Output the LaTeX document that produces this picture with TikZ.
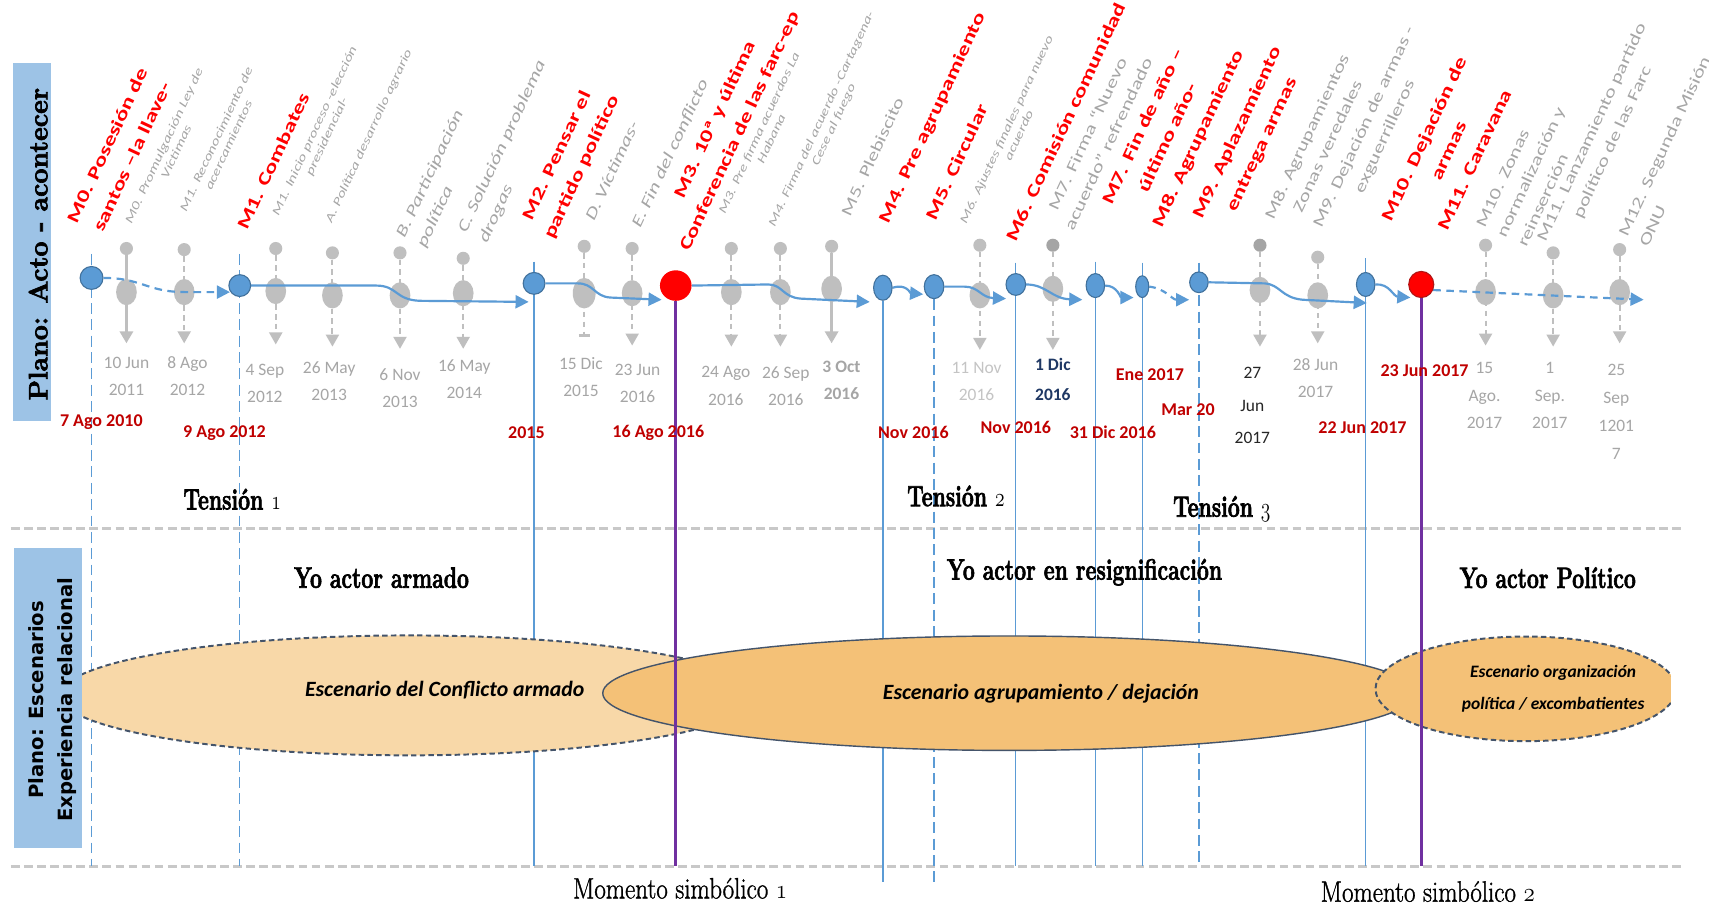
\documentclass[tikz,border=0pt]{standalone}
\usepackage{fontspec}
\usepackage{graphicx}
\usetikzlibrary{shapes.geometric,arrows.meta}
\newfontfamily\carl{Carlito}
\newfontfamily\djv{DejaVu Sans}
\newfontfamily\hvserif[FakeBold=2.5]{Latin Modern Roman}
\newfontfamily\mdserif[FakeBold=1.2]{Latin Modern Roman}
\definecolor{blueF}{HTML}{5B9BD5}
\definecolor{blueB}{HTML}{41719C}
\definecolor{blueL}{HTML}{5B9BD5}
\definecolor{redB}{HTML}{B01515}
\definecolor{purp}{HTML}{7030A0}
\definecolor{greyD}{HTML}{BFBFBF}
\definecolor{greyK}{HTML}{A5A5A5}
\definecolor{greyT}{HTML}{A6A6A6}
\definecolor{greyL}{HTML}{C4C4C4}
\definecolor{dred}{HTML}{C00000}
\definecolor{navy}{HTML}{1F3864}
\definecolor{boxblue}{HTML}{9DC3E6}
\definecolor{peach}{HTML}{F8D8A8}
\definecolor{amber}{HTML}{F4C177}
\definecolor{slate}{HTML}{44546A}
\definecolor{rule}{HTML}{C8C8C8}
\pgfdeclarelayer{back}
\pgfdeclarelayer{ell}
\pgfdeclarelayer{grey}
\pgfdeclarelayer{conn}
\pgfsetlayers{back,ell,grey,conn,main}
% rotated label: stretched tabular
\newcommand{\rlab}[2]{\scalebox{1.4}[1]{\begin{tabular}{@{}#1@{}}#2\end{tabular}}}
% old-style figures
\newcommand{\osfb}[1]{{\usefont{OML}{lmm}{b}{it}\fontsize{31}{30}\selectfont#1}}
\newcommand{\osfm}[1]{{\usefont{OML}{lmm}{m}{it}\fontsize{30}{30}\selectfont#1}}
\newcommand{\narrow}[2]{\scalebox{#1}[1]{#2}}
% grey event: name, x, y of small dot, y of large dot, y of tip, stem style, dot style
\newcommand{\gev}[7]{%
  \node[gbig] (#1b) at (#2,#4) {};
  \node[gdot,#7] (#1d) at (#2,#3) {};
  \coordinate (#1t) at (#2,#5);
  \draw[#6] (#1d) -- (#1t);
}
\begin{document}
\begin{tikzpicture}[x=1pt,y=-1pt,
  bnode/.style={ellipse, draw=blueB, fill=blueF, line width=1pt, inner sep=0pt},
  rnode/.style={ellipse, draw=redB, fill=red, line width=1pt, inner sep=0pt},
  gdot/.style={circle, fill=greyD, inner sep=0pt, minimum size=12pt},
  gbig/.style={ellipse, fill=greyD, inner sep=0pt, minimum width=19pt, minimum height=24pt},
  conn/.style={draw=blueL, line width=2pt, -{Triangle[length=12pt,width=12pt]}},
  vline/.style={draw=blueL, line width=1.2pt},
  vdash/.style={vline, dash pattern=on 10pt off 5pt},
  pline/.style={draw=purp, line width=3pt},
  gdash/.style={draw=greyD, line width=1.8pt, dash pattern=on 5pt off 4pt, -{Triangle[length=11pt,width=12pt]}},
  gsolid/.style={draw=greyD, line width=3pt, -{Triangle[length=11pt,width=12pt]}},
  redlab/.style={rotate=65, inner sep=0pt, text=red, font=\carl\bfseries\fontsize{16}{25}\selectfont},
  glab/.style={rotate=65, inner sep=0pt, text=greyT, font=\carl\itshape\fontsize{10.8}{12.5}\selectfont},
  glabL/.style={rotate=65, inner sep=0pt, text=greyT, font=\carl\fontsize{14.5}{21}\selectfont},
  glabLi/.style={glabL, font=\carl\itshape\fontsize{14.5}{21}\selectfont},
  gdate/.style={text=greyT, align=center, inner sep=0pt, font=\carl\fontsize{16}{25}\selectfont},
  rdate/.style={text=dred, inner sep=0pt, font=\carl\bfseries\fontsize{16.5}{20}\selectfont},
  serif/.style={inner sep=0pt, font=\hvserif\bfseries\fontsize{27}{30}\selectfont},
  serifm/.style={inner sep=0pt, font=\mdserif\fontsize{27}{30}\selectfont},
  scen/.style={inner sep=0pt, font=\carl\bfseries\itshape\fontsize{20}{24}\selectfont},
  hrule/.style={draw=rule, line width=2.2pt, dash pattern=on 8pt off 4pt}
]
\useasboundingbox (0,0) rectangle (1568,832);

% ---------- timeline nodes ----------
\node[bnode, minimum width=21pt, minimum height=21pt] (n0) at (84,255) {};
\node[bnode, minimum width=20pt, minimum height=20pt] (n1) at (220,262) {};
\node[bnode, minimum width=20pt, minimum height=20pt] (n2) at (490,260) {};
\node[rnode, draw=none, minimum width=29pt, minimum height=28pt] (n3) at (620,262) {};
\node[bnode, minimum width=17pt, minimum height=23pt] (n4) at (810,264) {};
\node[bnode, minimum width=18pt, minimum height=22pt] (n5) at (857,263) {};
\node[bnode, minimum width=18pt, minimum height=20pt] (n6) at (932,261) {};
\node[bnode, minimum width=17pt, minimum height=22pt] (n7) at (1005,262) {};
\node[bnode, minimum width=12pt, minimum height=20pt] (n8) at (1048,263) {};
\node[bnode, minimum width=17pt, minimum height=19pt] (n9) at (1100,259) {};
\node[bnode, minimum width=17pt, minimum height=22pt] (n10) at (1253,261) {};
\node[rnode, minimum width=23pt, minimum height=24pt] (n11) at (1304,261) {};

\coordinate (yb) at (0,795);
\coordinate (yc) at (0,809);
\coordinate (t1) at (211,268);
\coordinate (t2) at (485,277);
\coordinate (t3) at (607,275);
\coordinate (t4) at (798,277);
\coordinate (t5) at (847,270);
\coordinate (t6) at (923,274);
\coordinate (t7) at (993,275);
\coordinate (t8) at (1040,273);
\coordinate (t9) at (1091,275);
\coordinate (t10) at (1254,278);
\coordinate (t11) at (1294,273);
\coordinate (t12) at (1508,275);

% ---------- rules and vertical guides ----------
\begin{pgfonlayer}{back}
  \fill[white] (0,0) rectangle (1568,832);
  \coordinate (ha) at (10,485); \coordinate (hb) at (1545,485);
  \coordinate (hc) at (10,795); \coordinate (hd) at (1545,795);
  \draw[hrule] (ha) -- (hb);
  \draw[hrule] (hc) -- (hd);
  \draw[vdash] (n0) ++(0,-22) -- (n0 |- yb);
  \draw[vdash] (n1) ++(0,-29) -- (n1 |- yb);
  \draw[vline] (n2) ++(0,-20) -- (n2 |- yb);
  \draw[vline] (n4) -- (n4 |- yc);
  \draw[vdash] (n5) -- (n5 |- yc);
  \draw[vline] (n6) ++(0,-20) -- (n6 |- yb);
  \draw[vline] (n7) ++(0,-22) -- (n7 |- yb);
  \draw[vline] (n8) ++(0,-22) -- (n8 |- yb);
  \draw[vdash] (n9) ++(0,-18) -- (n9 |- yb);
  \draw[vline] (n10) ++(0,-24) -- (n10 |- yb);
\end{pgfonlayer}

% ---------- scenario ellipses ----------
\begin{pgfonlayer}{ell}
  \draw[fill=peach, draw=slate, line width=1.8pt, dash pattern=on 5pt off 3pt] (375,638) ellipse [x radius=320pt, y radius=55pt];
  \draw[fill=amber, draw=slate, line width=1.3pt] (926,636) ellipse [x radius=373pt, y radius=52.5pt];
  \begin{scope}
    \clip (1200,560) rectangle (1533,700);
    \draw[fill=amber, draw=slate, line width=1.8pt, dash pattern=on 5pt off 3pt] (1400,632) ellipse [x radius=138pt, y radius=48pt];
  \end{scope}
\end{pgfonlayer}

% ---------- grey events and symbolic moments ----------
\begin{pgfonlayer}{grey}
  \draw[pline] (n3) -- (n3 |- yb);
  \draw[pline] (n11) -- (n11 |- yb);
  \gev{ga}{116}{228}{268}{315}{gsolid}{}
  \gev{gb}{169}{229}{268}{315}{gdash}{}
  \gev{gc}{253}{228}{267}{316}{gdash}{}
  \gev{gd}{305}{232}{271}{318}{gdash}{}
  \gev{ge}{367}{232}{271}{320}{gdash}{}
  \gev{gf}{425}{237}{269}{320}{gdash}{}
  \node[gbig, minimum width=21pt, minimum height=28pt] (ggb) at (536,269) {};
  \node[gdot] (ggd) at (536,226) {};
  \coordinate (ggt) at (536,308);
  \draw[gdash,-] (ggd) -- (ggt);
  \draw[greyD, line width=3pt] (ggt) ++(-5,0) -- ++(10,0);
  \gev{gh}{580}{228}{269}{317}{gdash}{}
  \gev{gi}{671}{228}{268}{318}{gdash}{}
  \gev{gj}{716}{228}{268}{318}{gdash}{}
  \gev{gk}{763}{226}{265}{315}{gsolid}{}
  \gev{gl}{899}{225}{271}{321}{gdash}{}
  \gev{gm}{966}{225}{265}{321}{gdash}{fill=greyK}
  \gev{gn}{1156}{225}{266}{318}{gdash}{fill=greyK}
  \gev{go}{1209}{236}{271}{315}{gdash}{}
  \gev{gp}{1363}{225}{268}{317}{gdash}{}
  \gev{gq}{1425}{232}{271}{318}{gdash}{}
  \gev{gr}{1486}{229}{268}{315}{gdash}{}
\end{pgfonlayer}

% ---------- timeline connectors ----------
\begin{pgfonlayer}{conn}
  \draw[conn, dash pattern=on 7pt off 5pt] (n0.east) .. controls (130,255) and (135,268) .. (170,268) -- (t1);
  \draw[conn] (n1.east) -- (345,262) .. controls (365,262) and (362,275) .. (385,276) -- (t2);
  \draw[conn] (n2.east) -- (530,260) .. controls (545,260) and (545,272) .. (560,273) -- (t3);
  \draw[conn] (n3.east) -- (705,261) .. controls (718,261) and (718,273) .. (735,274) -- (t4);
  \draw[conn] (n4.east) .. controls (832,260) and (835,269) .. (t5);
  \draw[conn] (n5.east) -- (885,263) .. controls (898,263) and (900,273) .. (t6);
  \draw[conn] (n6.east) .. controls (960,261) and (965,274) .. (t7);
  \draw[conn] (n7.east) .. controls (1025,262) and (1028,273) .. (t8);
  \draw[conn, dash pattern=on 6pt off 5pt] (n8.east) .. controls (1070,265) and (1075,275) .. (t9);
  \draw[conn] (n9.east) -- (1160,260) .. controls (1175,261) and (1175,273) .. (1195,275) -- (t10);
  \draw[conn] (n10.east) .. controls (1275,260) and (1278,272) .. (t11);
  \draw[conn, dash pattern=on 7pt off 5pt] (n11.-25) -- (t12);
\end{pgfonlayer}

% ---------- side panels ----------
\node[fill=boxblue, minimum width=35pt, minimum height=328pt, inner sep=0pt] (bx1) at (29.5,222) {};
\node[rotate=90, inner sep=0pt, font=\hvserif\bfseries\fontsize{24.5}{28}\selectfont] (bx1t) at (35,224) {Plano: Acto - acontecer};
\node[fill=boxblue, minimum width=62pt, minimum height=275pt, inner sep=0pt] (bx2) at (44,640.5) {};
\node[rotate=90, inner sep=0pt, align=center, font=\djv\bfseries\fontsize{18}{27}\selectfont] (bx2t) at (48.5,642) {Plano: Escenarios\\Experiencia relacional};

% ---------- milestone labels ----------
\node[redlab] (lm0) at (110,139) {\rlab{c}{M0. Posesión de\\santos –la llave-}};
\node[redlab] (lm1) at (251,148) {\rlab{c}{M1. Combates}};
\node[redlab] (lm2) at (522,148) {\rlab{c}{M2. Pensar el\\partido político}};
\node[redlab] (lm3) at (667,115) {\rlab{c}{M3. 10ª y última\\Conferencia de las farc-ep}};
\node[redlab] (lm4) at (855,108) {\rlab{c}{M4. Pre agrupamiento}};
\node[redlab] (lm5) at (878,149) {\rlab{c}{M5. Circular}};
\node[redlab] (lm6) at (978,112) {\rlab{c}{M6. Comisión comunidad}};
\node[redlab] (lm7) at (1060,121) {\rlab{c}{M7. Fin de año –\\último año-}};
\node[redlab] (lm8) at (1099,127) {\rlab{c}{M8. Agrupamiento}};
\node[redlab] (lm9) at (1146,127) {\rlab{c}{M9. Aplazamiento\\entrega armas}};
\node[redlab] (lm10) at (1318,133) {\rlab{c}{M10. Dejación de\\armas}};
\node[redlab] (lm11) at (1353,147) {\rlab{c}{M11. Caravana}};

\node[glab] (g1) at (157,137) {\rlab{c}{M0. Promulgación Ley de\\Víctimas}};
\node[glab] (g2) at (205,131) {\rlab{c}{M1. Reconocimiento de\\acercamientos}};
\node[glab] (g3) at (295,123) {\rlab{c}{M1. Inicio proceso -elección\\presidencial-}};
\node[glab] (g4) at (339,125) {\rlab{c}{A. Política desarrollo agrario}};
\node[glabLi] (g5) at (404,164) {\rlab{l}{B. Participación\\política}};
\node[glabLi] (g6) at (470,139) {\rlab{l}{C. Solución problema\\drogas}};
\node[glabLi] (g7) at (562,157) {\rlab{c}{D. Víctimas-}};
\node[glabLi] (g8) at (615,141) {\rlab{c}{E. Fin del conflicto}};
\node[glab] (g9) at (703,125) {\rlab{c}{M3. Pre firma acuerdos La\\Habana}};
\node[glab] (g10) at (760,112) {\rlab{c}{M4. Firma del acuerdo -Cartagena-\\Cese al fuego}};
\node[glabL] (g11) at (801,144) {\rlab{c}{M5. Plebiscito}};
\node[glab] (g12) at (930,122) {\rlab{c}{M6. Ajustes finales para nuevo\\acuerdo}};
\node[glabL] (g13) at (1008,128) {\rlab{c}{M7. Firma “Nuevo\\acuerdo” refrendado}};
\node[glabL] (g14) at (1209,130) {\rlab{c}{M8. Agrupamientos\\Zonas veredales}};
\node[glabL] (g15) at (1261,121) {\rlab{c}{M9. Dejación de armas -\\exguerrilleros}};
\node[glabL] (g16) at (1405,158) {\rlab{l}{M10. Zonas\\normalización y\\reinserción}};
\node[glabL] (g17) at (1470,126) {\rlab{c}{M11. Lanzamiento partido\\político de las Farc}};
\node[glabL] (g18) at (1537,139) {\rlab{l}{M12. Segunda Misión\\ONU}};

% ---------- dates ----------
\node[gdate] (d1) at (116,345) {10 Jun\\2011};
\node[gdate] (d2) at (172,345) {8 Ago\\2012};
\node[gdate] (d3) at (243,352) {4 Sep\\2012};
\node[gdate] (d4) at (302,350) {26 May\\2013};
\node[gdate] (d5) at (367,356) {6 Nov\\2013};
\node[gdate] (d6) at (426,348) {16 May\\2014};
\node[gdate] (d7) at (533,346) {15 Dic\\2015};
\node[gdate] (d8) at (585,352) {23 Jun\\2016};
\node[gdate] (d9) at (666,354) {24 Ago\\2016};
\node[gdate] (d10) at (721,354) {26 Sep\\2016};
\node[gdate, text=greyK, font=\carl\bfseries\fontsize{16}{25}\selectfont] (d11) at (772,349) {3 Oct\\2016};
\node[gdate, text=greyL] (d12) at (896,350) {11 Nov\\2016};
\node[gdate, text=navy, font=\carl\bfseries\fontsize{16}{28}\selectfont] (d13) at (966,348) {1 Dic\\2016};
\node[gdate, text=black!85, font=\carl\fontsize{16}{29.5}\selectfont] (d14) at (1149,372) {27\\Jun\\2017};
\node[gdate] (d15) at (1207,347) {28 Jun\\2017};
\node[gdate, font=\carl\fontsize{16}{25.5}\selectfont] (d16) at (1362,363) {15\\Ago.\\2017};
\node[gdate, font=\carl\fontsize{16}{25.5}\selectfont] (d17) at (1422,363) {1\\Sep.\\2017};
\node[gdate, font=\carl\fontsize{16}{25.5}\selectfont] (d18) at (1483,378) {25\\Sep\\1201\\7};

\node[rdate] (r1) at (93,387) {7 Ago 2010};
\node[rdate] (r2) at (206,397) {9 Ago 2012};
\node[rdate] (r3) at (483,397) {2015};
\node[rdate] (r4) at (604,397) {16 Ago 2016};
\node[rdate] (r5) at (838,397) {Nov 2016};
\node[rdate] (r6) at (932,392) {Nov 2016};
\node[rdate] (r7) at (1021,397) {31 Dic 2016};
\node[rdate] (r8) at (1055,344) {Ene 2017};
\node[rdate] (r9) at (1090,376) {Mar 20};
\node[rdate] (r10) at (1307,340) {23 Jun 2017};
\node[rdate] (r11) at (1250,392) {22 Jun 2017};

% ---------- tensions, identities and symbolic moments ----------
\node[serif] (ts1) at (213,458) {\narrow{0.72}{Tensión \osfb{1}}};
\node[serif] (ts2) at (877,455) {\narrow{0.72}{Tensión \osfb{2}}};
\node[serif] (ts3) at (1121,467) {\narrow{0.72}{Tensión \osfb{3}}};
\node[serif] (ya) at (350,530) {\narrow{0.72}{Yo actor armado}};
\node[serif] (yr) at (995,525) {\narrow{0.72}{Yo actor en resignificación}};
\node[serif] (yp) at (1420,530) {\narrow{0.72}{Yo actor Político}};
\node[serifm] (ms1) at (624,815) {\narrow{0.85}{Momento simbólico \osfm{1}}};
\node[serifm] (ms2) at (1310,818) {\narrow{0.85}{Momento simbólico \osfm{2}}};

% ---------- scenario captions ----------
\node[scen] (e1) at (408,633) {Escenario del Conflicto armado};
\node[scen] (e2) at (955,636) {Escenario agrupamiento / dejación};
\node[scen, align=center, font=\carl\bfseries\itshape\fontsize{16}{29}\selectfont] (e3) at (1425,632) {Escenario organización\\política / excombatientes};
\end{tikzpicture}
\end{document}
